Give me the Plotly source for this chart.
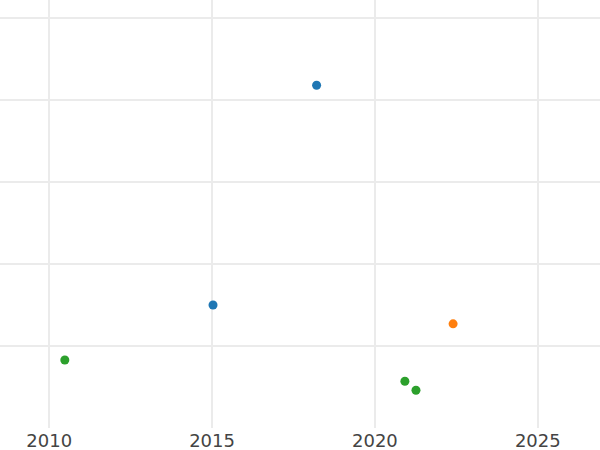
import plotly.graph_objects as go

blue_x = [2018.21, 2015.03]
blue_y = [4.18, 1.50]
orange_x = [2022.40]
orange_y = [1.27]
green_x = [2010.48, 2020.92, 2021.26]
green_y = [0.83, 0.57, 0.46]

x_ticks = [2010, 2015, 2020, 2025]

fig = go.Figure()
for xs, ys, c in [(blue_x, blue_y, "#1f77b4"), (orange_x, orange_y, "#ff7f0e"), (green_x, green_y, "#2ca02c")]:
    fig.add_trace(go.Scatter(x=xs, y=ys, mode="markers", marker=dict(color=c, size=9), showlegend=False))

fig.update_layout(
    width=600, height=450,
    margin=dict(l=0, r=0, t=0, b=22),
    paper_bgcolor="white", plot_bgcolor="white",
    font=dict(family="DejaVu Sans", size=18, color="#444"),
    showlegend=False,
)
fig.update_xaxes(range=[2008.49, 2026.91], tickvals=x_ticks, ticktext=[str(t) for t in x_ticks],
                 showgrid=True, gridcolor="#ebebeb", gridwidth=1.5, zeroline=False, showline=False, ticks="")
fig.update_yaxes(range=[0, 5.22], dtick=1, tick0=0, showticklabels=False,
                 showgrid=True, gridcolor="#ebebeb", gridwidth=1.5, zeroline=False, showline=False, ticks="")
fig.write_html("out.html", config={"displayModeBar": False},
               post_script="document.body.style.margin='0';document.body.style.overflow='hidden';")
